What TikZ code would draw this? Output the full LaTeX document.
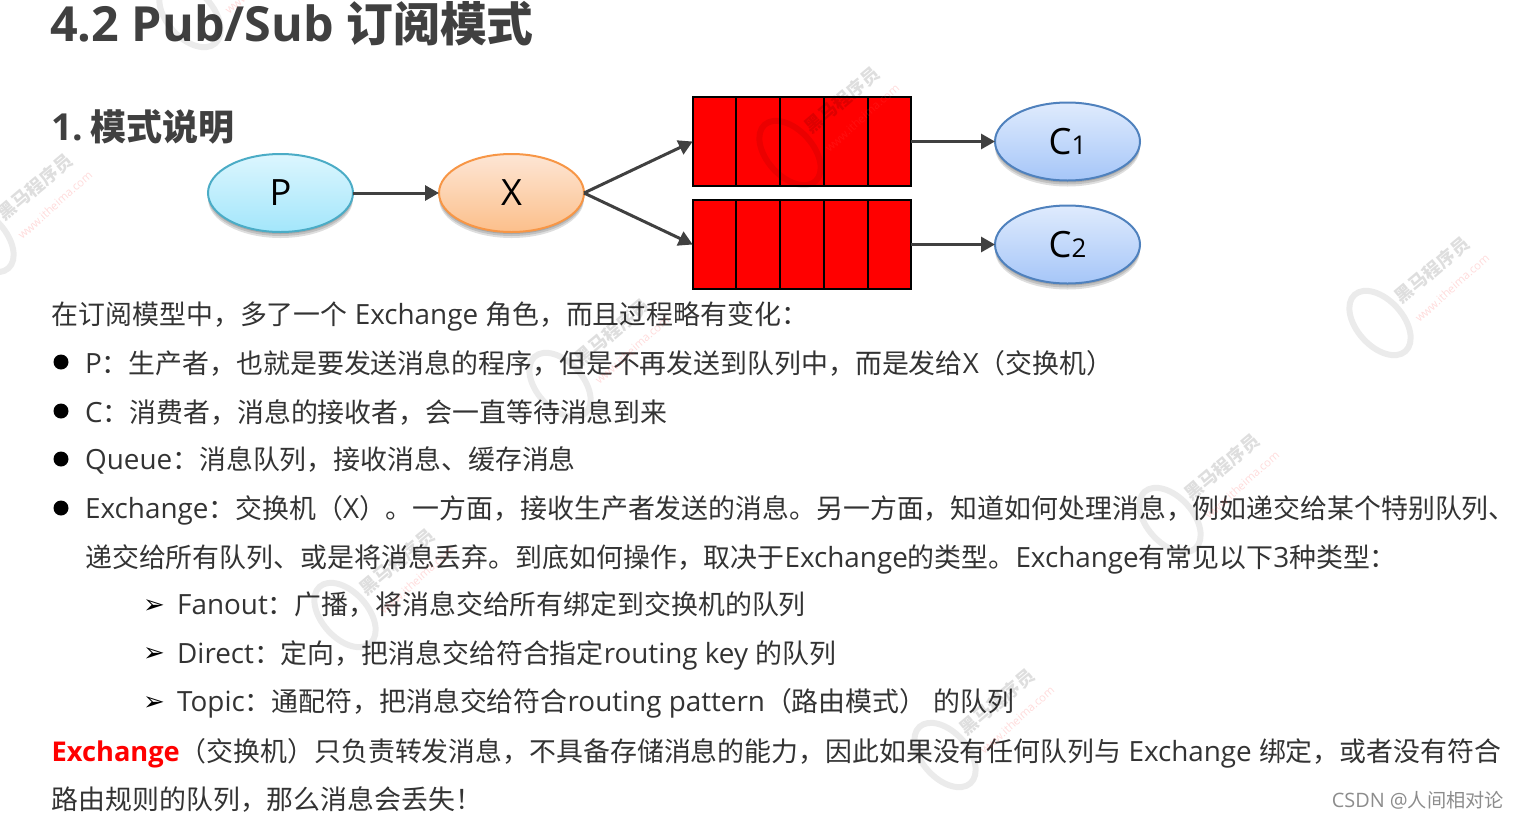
\documentclass[tikz,border=0pt]{standalone}
\usepackage{fontspec}
\setmainfont{Open Sans}[Scale=1.035]
\newfontfamily\cjk{Noto Sans CJK SC}
\newfontfamily\arrowfont{DejaVu Sans}
\usetikzlibrary{arrows.meta}
\usetikzlibrary{positioning}
\usetikzlibrary{shapes.geometric}
\usetikzlibrary{shadows}
\definecolor{bodygray}{HTML}{333333}
\definecolor{headgray}{HTML}{404040}
\definecolor{ptop}{HTML}{DCF6FE}
\definecolor{pbottom}{HTML}{A3E6FB}
\definecolor{pline}{HTML}{4BACC6}
\definecolor{xtop}{HTML}{FDE6D5}
\definecolor{xbottom}{HTML}{FCBF8B}
\definecolor{xline}{HTML}{F79646}
\definecolor{ctop}{HTML}{DFEBFD}
\definecolor{cbottom}{HTML}{A6C6F8}
\definecolor{cline}{HTML}{4F81BD}
\newcommand{\zh}[1]{{\cjk #1}}

\begin{document}
\begin{tikzpicture}[
            x=1pt, y=-1pt,
            softshadow/.style={drop shadow={shadow xshift=0pt, shadow yshift=-#1, fill=black, opacity=0.13}},
            roleoval/.style={ellipse, draw, line width=2pt, minimum width=145pt, minimum height=78pt, inner sep=0pt, outer sep=0pt,
                font=\fontsize{35}{36}\selectfont, softshadow=6pt, softshadow=4pt, softshadow=2pt},
            cell/.style={rectangle, draw=black, line width=2pt, fill=red, minimum width=43.7pt, minimum height=89pt, inner sep=0pt, outer sep=0pt},
            link/.style={draw=headgray, line width=3pt, -{Triangle[length=14pt, width=15pt]}},
            textline/.style={anchor=base west, inner sep=0pt, text=bodygray, font=\fontsize{26.9}{30}\selectfont},
            bulletdot/.style={circle, fill=black, minimum size=15pt, inner sep=0pt},
            arrowmark/.style={anchor=base west, inner sep=0pt, text=black, font=\arrowfont\fontsize{26}{28}\selectfont},
            markname/.style={inner sep=0pt, rotate=40, text=black, opacity=0.13, font=\cjk\bfseries\fontsize{18}{20}\selectfont},
            markweb/.style={inner sep=0pt, rotate=42, text=red!70!white, opacity=0.2, font=\fontsize{11}{12}\selectfont},
            markring/.style={ellipse, draw=black, opacity=0.08, line width=6pt, minimum width=46pt, minimum height=76pt, inner sep=0pt, rotate=42},
        ]
        \useasboundingbox (0,0) rectangle (1520,820);

        % Headings.
        \node[anchor=base west, inner sep=0pt, text=headgray, font=\bfseries\fontsize{46.8}{50}\selectfont] (title) at (50,41) {4.2 Pub/Sub \zh{订阅模式}};
        \node[anchor=base west, inner sep=0pt, text=headgray, font=\bfseries\fontsize{36}{40}\selectfont] (subtitle) at (51,140) {1.\hspace{7pt}\zh{模式说明}};

        % Nodes.
        \node[roleoval, top color=ptop, bottom color=pbottom, draw=pline] (producer) at (280.5,193) {P};
        \node[roleoval, top color=xtop, bottom color=xbottom, draw=xline] (exchange) at (511.5,193) {X};
        \node[roleoval, top color=ctop, bottom color=cbottom, draw=cline] (consumer_a) at (1067.5,141.5) {C\fontsize{25}{26}\selectfont 1};
        \node[roleoval, top color=ctop, bottom color=cbottom, draw=cline] (consumer_b) at (1067.5,244.5) {C\fontsize{25}{26}\selectfont 2};

        \foreach \i in {1,...,5} {
            \node[cell] (queue_a\i) at (692.7+43.7*\i-21.85,141.5) {};
            \node[cell] (queue_b\i) at (692.7+43.7*\i-21.85,244.5) {};
        }

        % Lines.
        \draw[link] (producer.east) -- (exchange.west);
        \draw[link] (exchange.east) -- (queue_a1.west);
        \draw[link] (exchange.east) -- (queue_b1.west);
        \draw[link] (queue_a5.east) -- (consumer_a.west);
        \draw[link] (queue_b5.east) -- (consumer_b.west);

        % Text.
        \node[textline] (intro) at (51.5,324) {\zh{在订阅模型中，多了一个} Exchange \zh{角色，而且过程略有变化：}};
        \node[bulletdot] (dot_p) at (61,362) {};
        \node[textline] (item_p) at (85,373) {P\zh{：生产者，也就是要发送消息的程序，但是不再发送到队列中，而是发给}X\zh{（交换机）}};
        \node[bulletdot] (dot_c) at (61,411) {};
        \node[textline] (item_c) at (85,422) {C\zh{：消费者，消息的接收者，会一直等待消息到来}};
        \node[bulletdot] (dot_q) at (61,459) {};
        \node[textline] (item_q) at (85,469) {Queue\zh{：消息队列，接收消息、缓存消息}};
        \node[bulletdot] (dot_x) at (61,508) {};
        \node[textline] (item_x) at (85,518) {Exchange\zh{：交换机（}X\zh{）。一方面，接收生产者发送的消息。另一方面，知道如何处理消息，例如递交给某个特别队列、}};
        \node[textline] (item_x2) at (85,567) {\zh{递交给所有队列、或是将消息丢弃。到底如何操作，取决于}Exchange\zh{的类型。}Exchange\zh{有常见以下}3\zh{种类型：}};
        \node[arrowmark] (mark_f) at (143,613) {➢};
        \node[textline] (type_f) at (177,614) {Fanout\zh{：广播，将消息交给所有绑定到交换机的队列}};
        \node[arrowmark] (mark_d) at (143,661) {➢};
        \node[textline] (type_d) at (177,663) {Direct\zh{：定向，把消息交给符合指定}routing key \zh{的队列}};
        \node[arrowmark] (mark_t) at (143,710) {➢};
        \node[textline] (type_t) at (177,711) {Topic\zh{：通配符，把消息交给符合}routing pattern\zh{（路由模式）} \zh{的队列}};
        \node[textline] (note_a) at (51.5,761) {{\fontsize{26.3}{30}\selectfont\textcolor{red}{\textbf{Exchange}}}\zh{（交换机）只负责转发消息，不具备存储消息的能力，因此如果没有任何队列与} Exchange \zh{绑定，或者没有符合}};
        \node[textline] (note_b) at (51.5,809) {\zh{路由规则的队列，那么消息会丢失！}};
        \node[anchor=base east, inner sep=0pt, text=black!45, font=\fontsize{19.2}{22}\selectfont] (credit) at (1504,807) {CSDN @\zh{人间相对论}};

        % Watermarks.
        \foreach \mx/\my [count=\n] in {-17/240, 190/15, 790/153, 1380/323, 1170/520, 560/385, 345/615, 945/755} {
            \node[markring] (ring\n) at (\mx,\my) {};
            \node[markname] (brand\n) at (\mx+52,\my-53) {黑马程序员};
            \node[markweb] (site\n) at (\mx+72,\my-35) {www.itheima.com};
        }
    \end{tikzpicture}
\end{document}
